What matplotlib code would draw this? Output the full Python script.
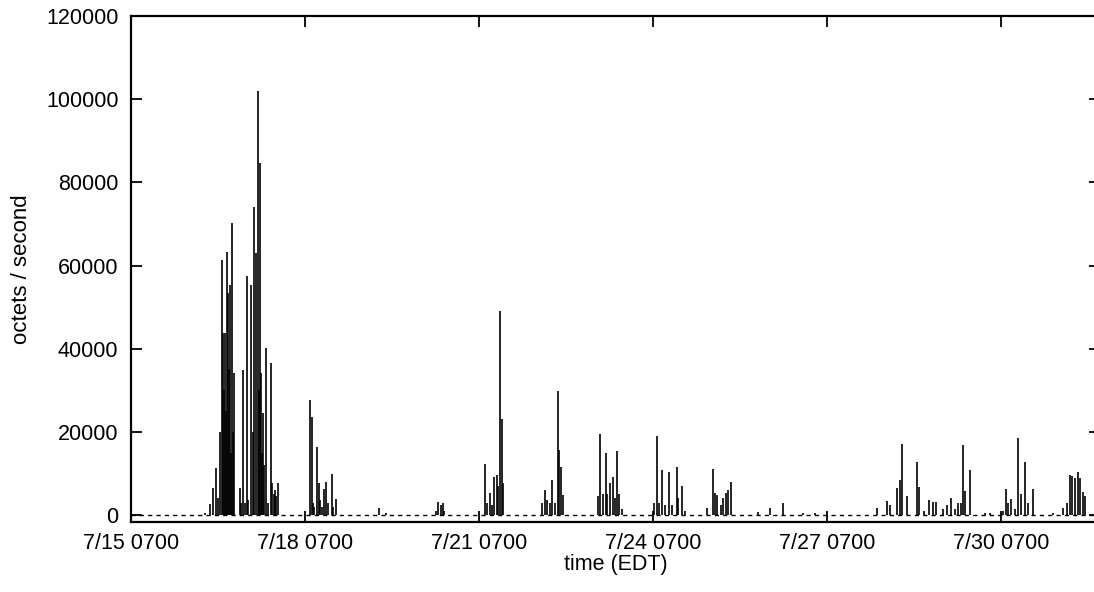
import matplotlib
matplotlib.use("Agg")
import matplotlib.pyplot as plt

plt.rcParams['font.family'] = ['Liberation Sans', 'DejaVu Sans']

# hours since 7/15 0700 EDT, and octets/second
hours = [
    30.6, 32.7, 34.1, 35.0, 36.0, 37.0, 37.5, 38.2, 38.5, 38.9, 39.2, 39.6, 40.3, 40.6,
    41.0, 41.4, 41.8, 42.2, 42.6,
    45.1, 45.7, 46.5, 47.2, 47.9, 48.6, 49.7, 50.3, 51.0, 51.7, 52.4, 52.9, 53.4, 53.8,
    54.2, 54.7, 55.2, 55.9, 56.7, 57.9, 58.4, 59.2, 59.6, 60.2, 60.7,
    74.1, 74.8, 75.3, 75.9, 76.8, 77.7, 78.2, 79.0, 79.9, 80.9, 81.7, 83.0, 83.6, 84.8,
    102.6, 105.5,
    126.2, 127.2, 128.1, 129.0, 129.5,
    146.5, 147.3, 148.6, 149.4, 150.3, 151.3, 152.0, 152.8, 153.5, 154.1,
    169.9, 171.3, 172.3, 173.2, 174.3, 175.4, 176.5, 177.1, 177.8, 178.8,
    193.4, 194.2, 195.3, 196.4, 197.1, 198.2, 199.6, 200.3, 201.2, 202.0, 203.2,
    216.4, 217.8, 218.7, 219.7, 220.9, 222.5, 223.7, 225.8, 226.4, 228.2, 229.2,
    238.2, 240.7, 241.7, 242.6, 244.0, 245.1, 246.2, 247.1, 248.5,
    259.6, 264.4, 269.7, 278.1, 283.0,
    308.6, 313.0, 314.1, 316.9, 318.2, 319.2, 321.2, 325.1, 326.1, 328.1, 330.3, 331.8,
    333.1, 336.0, 337.6, 339.2, 340.9, 342.2, 343.4, 344.4, 345.3, 347.2,
    353.4, 355.4,
    360.8, 362.1, 363.1, 364.1, 365.8, 367.2, 368.2, 369.9, 371.0, 373.4,
    381.5, 385.7, 387.3, 388.5, 389.6, 390.6, 391.7, 392.7, 393.8, 394.8,
]
octets = [
    500, 2600, 6500, 11300, 4000, 20000, 61300, 43700, 30000, 43700, 25000, 63200, 53400, 35000,
    55300, 15000, 70200, 20000, 34100,
    6500, 3000, 34900, 3000, 57500, 3500, 55300, 20000, 74000, 63000, 102000, 30000, 84600, 34100,
    15000, 24500, 12000, 40100, 3000, 36500, 7700, 5000, 6000, 4500, 7700,
    27600, 23600, 3000, 2000, 16400, 7600, 3600, 2000, 6200, 8000, 3000, 9900, 2000, 3800,
    1600, 500,
    1000, 3200, 2500, 2800, 1000,
    12200, 3000, 5200, 2500, 9200, 9600, 7000, 49000, 23200, 7600,
    2800, 6000, 3500, 3000, 8400, 3000, 29900, 15600, 11600, 4800,
    4600, 19400, 5000, 15000, 5000, 7800, 9200, 4000, 15400, 5000, 1500,
    2800, 19000, 3000, 10800, 2500, 10400, 2500, 11600, 4000, 7000, 1000,
    1600, 11000, 5200, 4800, 2500, 4000, 5200, 6000, 8000,
    800, 1800, 3000, 400, 400,
    1600, 3400, 2500, 6400, 8400, 17000, 4600, 12800, 6800, 1000, 3600, 3200,
    3200, 1500, 2500, 4200, 1500, 2800, 3000, 16800, 5700, 10800,
    500, 400,
    1000, 6200, 3000, 3800, 1500, 18400, 5000, 12800, 3000, 6300,
    500, 1800, 3000, 9600, 9300, 9000, 10400, 9000, 5600, 4500,
]

tick_hours = [0, 72, 144, 216, 288, 360]
tick_labels = ["7/15 0700", "7/18 0700", "7/21 0700", "7/24 0700", "7/27 0700", "7/30 0700"]
y_ticks = [0, 20000, 40000, 60000, 80000, 100000, 120000]

W, H = 1094, 592
fig = plt.figure(figsize=(W / 100, H / 100), dpi=100)
left, right, top, bottom = 131, 1100, 16, 521.5
ax = fig.add_axes([left / W, 1 - bottom / H, (right - left) / W, (bottom - top) / H])

ax.vlines(hours, 0, octets, color='black', linewidth=1.2)
ax.axhline(0, color='black', linewidth=1.0, linestyle=(0, (3, 3)))

ax.set_xlim(0, 401)
ax.set_ylim(-1560, 120000)
ax.set_xticks(tick_hours)
ax.set_xticklabels(tick_labels)
ax.set_yticks(y_ticks)
ax.set_yticklabels([str(v) for v in y_ticks])

ax.tick_params(axis='both', direction='in', length=8, width=1.3, labelsize=15.5,
               top=True, right=True)
ax.tick_params(axis='y', pad=9)
ax.tick_params(axis='x', pad=8)
for s in ax.spines.values():
    s.set_linewidth(1.6)

ax.set_xlabel("time (EDT)", fontsize=15.5, labelpad=0)
ax.set_ylabel("octets / second", fontsize=16, va='center')
ax.yaxis.set_label_coords((22 - left) / (right - left), 0.5)

fig.savefig("out.png", dpi=100)
